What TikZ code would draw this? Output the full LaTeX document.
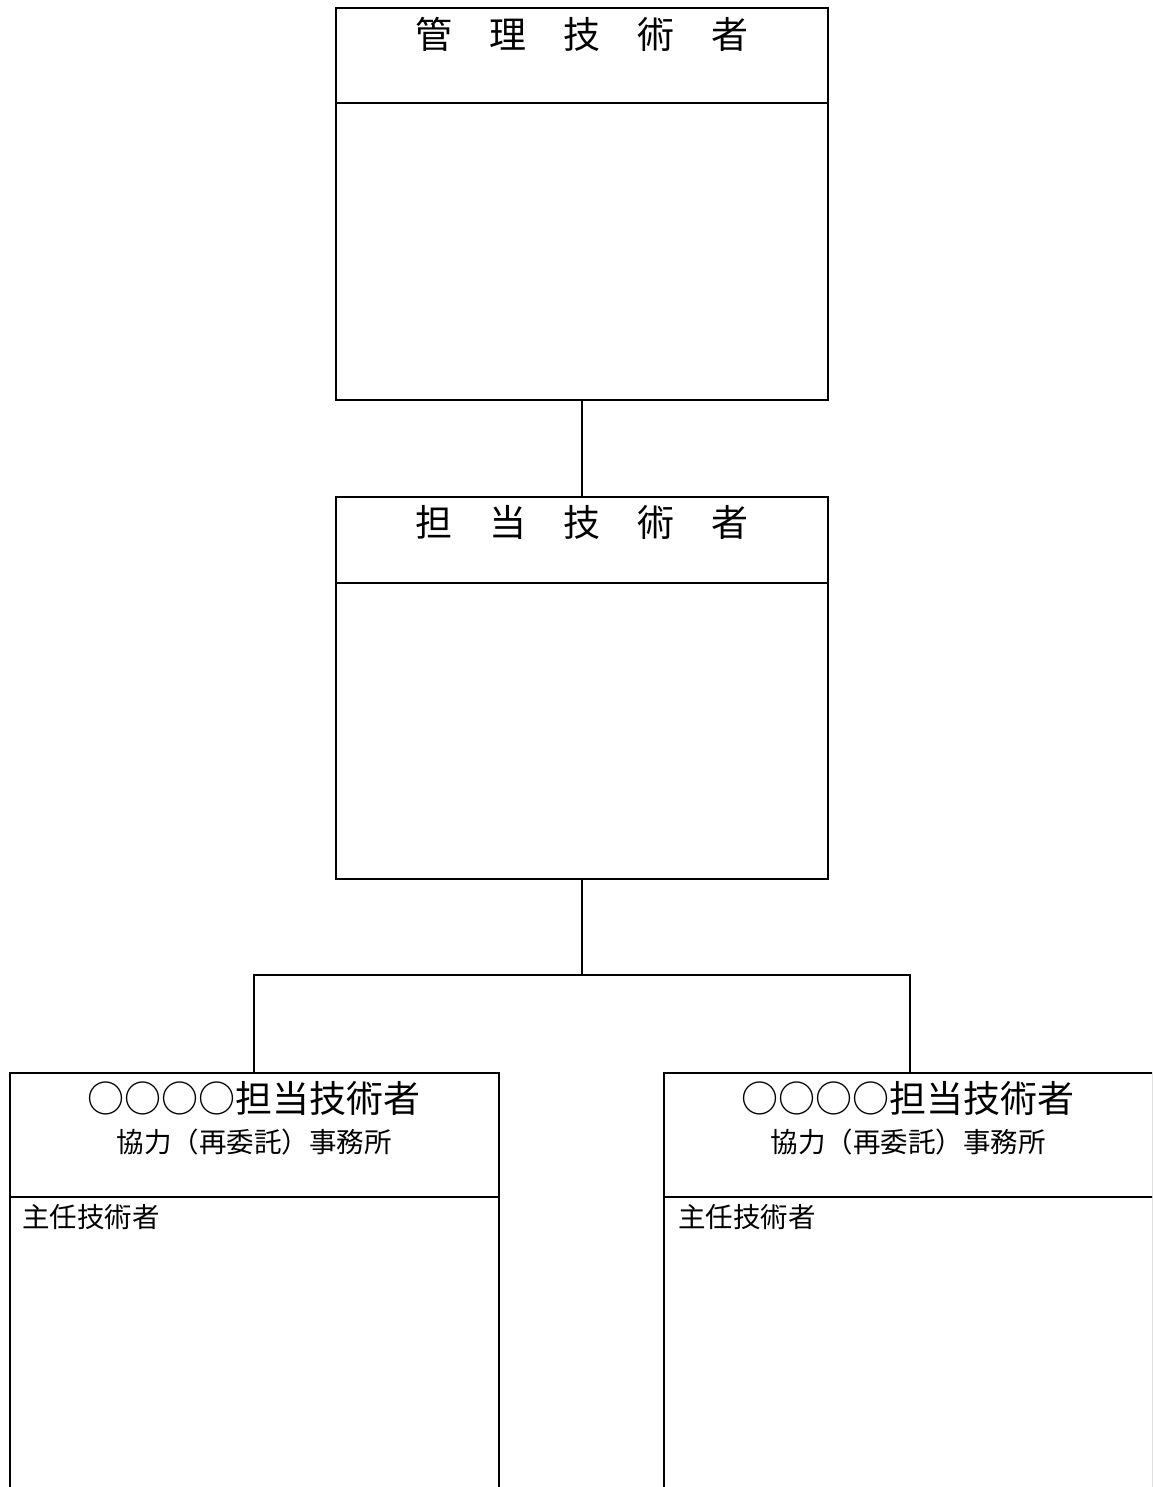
\documentclass[tikz,border=0pt]{standalone}
\usepackage{fontspec}
\newfontfamily\cjk{Noto Sans CJK JP}
\begin{document}
\begin{tikzpicture}[x=1pt,y=-1pt,
  box/.style={draw, line width=2pt, rectangle, inner sep=0pt},
  conn/.style={draw, line width=2pt},
  bigt/.style={font=\cjk\fontsize{37}{40}\selectfont, inner sep=0pt, anchor=center},
  midt/.style={font=\cjk\fontsize{27.5}{30}\selectfont, inner sep=0pt, anchor=center},
  leftt/.style={font=\cjk\fontsize{27.5}{30}\selectfont, inner sep=0pt, anchor=west}]
\useasboundingbox (0,0) rectangle (1152,1487);
\clip (0,0) rectangle (1152,1487);
% top box
\node[box, minimum width=492pt, minimum height=392pt] (top) at (582,204) {};
\draw[conn] (336,103) coordinate (td1) -- (828,103) coordinate (td2);
\node[bigt] (toptitle) at (582,34) {管　理　技　術　者};
% middle box
\node[box, minimum width=492pt, minimum height=382pt] (mid) at (582,688) {};
\draw[conn] (336,583) coordinate (md1) -- (828,583) coordinate (md2);
\node[bigt] (midtitle) at (582,522) {担　当　技　術　者};
% bottom boxes
\node[box, minimum width=489pt, minimum height=600pt] (bl) at (254.5,1373) {};
\node[box, minimum width=489pt, minimum height=600pt] (br) at (908.5,1373) {};
\draw[conn] (bl.west |- 0,1197) -- (bl.east |- 0,1197);
\draw[conn] (br.west |- 0,1197) -- (br.east |- 0,1197);
\node[bigt] (bltitle) at (254,1098) {○○○○担当技術者};
\node[midt] (blsub) at (254,1142) {協力（再委託）事務所};
\node[leftt] (bllab) at (22,1217) {主任技術者};
\node[bigt] (brtitle) at (908,1098) {○○○○担当技術者};
\node[midt] (brsub) at (908,1142) {協力（再委託）事務所};
\node[leftt] (brlab) at (678,1217) {主任技術者};
% connectors
\draw[conn] (top.south) -- (mid.north);
\coordinate (junc) at (582,975);
\coordinate (jl) at (254,975);
\coordinate (jr) at (910,975);
\draw[conn] (mid.south) -- (junc);
\draw[conn] (jl |- bl.north) -- (jl) -- (jr) -- (jr |- br.north);
\end{tikzpicture}
\end{document}
